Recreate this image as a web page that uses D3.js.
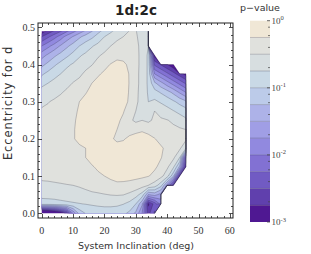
<!DOCTYPE html>
<html><head><meta charset="utf-8">
<script src="https://cdn.jsdelivr.net/npm/d3@7"></script>
<style>body{margin:0;background:#fff}svg{display:block}</style>
</head><body>
<svg id="c" width="311" height="254"></svg>
<script>
const title = "1d:2c";
const xLabel = "System Inclination (deg)";
const yLabel = "Eccentricity for d";
const legendTitle = "p\u2212value";
const inclinations = [0,2,4,6,8,10,12,14,16,18,20,22,24,26,28,30,32,34,36,38,40,42,44,46,48];
const eccentricities = [0,0.025,0.05,0.075,0.1,0.125,0.15,0.175,0.2,0.225,0.25,0.275,0.3,0.325,0.35,0.375,0.4,0.425,0.45,0.475,0.5];
const N = null;
// log10(p) on the grid, one row per eccentricity (bottom to top), one column per inclination
const logP = [
[-3.6,-3.5,-3.3,-3.0,-2.6,-1.7,-1.15,-0.98,-0.92,-0.9,-0.88,-0.88,-0.9,-0.95,-1.05,-1.3,-1.75,-2.6,-2.2,N,N,N,N,N,N],
[-0.85,-0.85,-0.84,-0.82,-0.8,-0.78,-0.76,-0.74,-0.72,-0.7,-0.69,-0.69,-0.7,-0.74,-0.82,-1.0,-1.45,-2.8,-2.4,-1.9,N,N,N,N,N],
[-0.68,-0.67,-0.66,-0.64,-0.62,-0.6,-0.58,-0.56,-0.54,-0.53,-0.51,-0.49,-0.48,-0.49,-0.55,-0.65,-0.85,-1.5,-1.4,-1.6,N,N,N,N,N],
[-0.55,-0.54,-0.53,-0.52,-0.51,-0.5,-0.48,-0.45,-0.41,-0.37,-0.33,-0.3,-0.28,-0.29,-0.31,-0.34,-0.4,-0.5,-0.62,-0.9,-1.6,-2.6,N,N,N],
[-0.45,-0.45,-0.44,-0.43,-0.41,-0.39,-0.36,-0.33,-0.3,-0.27,-0.25,-0.22,-0.2,-0.19,-0.19,-0.2,-0.21,-0.24,-0.3,-0.42,-0.65,-1.2,-2.6,N,N],
[-0.4,-0.4,-0.39,-0.38,-0.36,-0.33,-0.3,-0.28,-0.26,-0.23,-0.2,-0.18,-0.16,-0.15,-0.15,-0.15,-0.16,-0.18,-0.22,-0.3,-0.45,-0.7,-1.3,-2.7,N],
[-0.37,-0.37,-0.36,-0.35,-0.33,-0.31,-0.28,-0.25,-0.21,-0.18,-0.16,-0.14,-0.12,-0.11,-0.1,-0.1,-0.11,-0.13,-0.17,-0.24,-0.33,-0.45,-0.75,-2.3,N],
[-0.35,-0.35,-0.34,-0.33,-0.31,-0.29,-0.27,-0.25,-0.21,-0.17,-0.15,-0.17,-0.15,-0.12,-0.1,-0.1,-0.1,-0.12,-0.16,-0.22,-0.3,-0.37,-0.45,-0.75,N],
[-0.35,-0.35,-0.34,-0.32,-0.3,-0.26,-0.22,-0.2,-0.17,-0.15,-0.15,-0.21,-0.3,-0.28,-0.18,-0.15,-0.15,-0.18,-0.24,-0.32,-0.38,-0.41,-0.43,-0.45,N],
[-0.37,-0.37,-0.36,-0.34,-0.32,-0.26,-0.22,-0.19,-0.16,-0.14,-0.13,-0.17,-0.25,-0.38,-0.38,-0.32,-0.28,-0.32,-0.37,-0.4,-0.42,-0.45,-0.47,-0.5,N],
[-0.41,-0.4,-0.39,-0.36,-0.33,-0.27,-0.22,-0.18,-0.15,-0.13,-0.12,-0.13,-0.2,-0.3,-0.45,-0.55,-0.5,-0.55,-0.45,-0.47,-0.49,-0.54,-0.62,-0.7,N],
[-0.47,-0.46,-0.43,-0.39,-0.35,-0.29,-0.23,-0.18,-0.14,-0.12,-0.1,-0.1,-0.15,-0.23,-0.38,-0.5,-0.62,-0.7,-0.5,-0.58,-0.66,-0.74,-0.82,-0.9,N],
[-0.55,-0.51,-0.47,-0.43,-0.4,-0.33,-0.25,-0.2,-0.15,-0.12,-0.08,-0.08,-0.12,-0.18,-0.28,-0.45,-0.6,-0.75,-0.7,-0.78,-0.86,-0.96,-1.08,-1.2,N],
[-0.65,-0.6,-0.57,-0.52,-0.46,-0.4,-0.33,-0.26,-0.2,-0.16,-0.12,-0.1,-0.1,-0.15,-0.27,-0.45,-0.58,-0.78,-0.9,-1.02,-1.14,-1.31,-1.53,-1.75,N],
[-0.82,-0.75,-0.68,-0.62,-0.56,-0.49,-0.43,-0.33,-0.25,-0.2,-0.17,-0.14,-0.12,-0.16,-0.26,-0.45,-0.56,-0.8,-1.2,-1.42,-1.64,-1.86,-2.08,-2.3,N],
[-1.04,-0.93,-0.83,-0.75,-0.66,-0.6,-0.55,-0.45,-0.36,-0.27,-0.22,-0.18,-0.15,-0.18,-0.26,-0.45,-0.56,-0.8,-1.75,-1.97,-2.19,-2.41,-2.63,-2.85,N],
[-1.32,-1.18,-1.04,-0.92,-0.8,-0.72,-0.65,-0.58,-0.51,-0.4,-0.3,-0.24,-0.2,-0.22,-0.28,-0.44,-0.56,-0.8,-2.3,-2.52,-2.74,-2.96,N,N,N],
[-1.6,-1.45,-1.3,-1.17,-1.05,-0.92,-0.78,-0.7,-0.62,-0.53,-0.45,-0.35,-0.3,-0.3,-0.33,-0.44,-0.56,-0.8,-2.85,N,N,N,N,N,N],
[-2.0,-1.82,-1.65,-1.47,-1.3,-1.15,-1.0,-0.88,-0.77,-0.68,-0.6,-0.5,-0.42,-0.4,-0.38,-0.45,-0.56,-0.75,N,N,N,N,N,N,N],
[-2.5,-2.3,-2.1,-1.88,-1.65,-1.48,-1.3,-1.15,-1.05,-0.9,-0.75,-0.65,-0.56,-0.5,-0.44,-0.48,-0.56,-0.7,N,N,N,N,N,N,N],
[-3.2,-2.9,-2.7,-2.55,-2.3,-2.07,-1.85,-1.65,-1.4,-1.17,-1.03,-0.88,-0.76,-0.65,-0.53,-0.5,-0.58,-0.7,N,N,N,N,N,N,N]
];
const levels = [-3,-2.75,-2.5,-2.25,-2,-1.75,-1.5,-1.25,-1,-0.75,-0.5,-0.25,0];
const bandColors = ["#4f1892","#6040ad","#715bc3","#8271d3","#9189df","#a09ee5","#adb2e8","#bccbe9","#c9d9e6","#d7dee0","#e0e1dd","#f0e7d6"];
const xTicks = [0,10,20,30,40,50,60];
const yTicks = [0,0.1,0.2,0.3,0.4,0.5];
const cbTicks = [0,-1,-2,-3];
const eccTop = 0.49;

const svg = d3.select("#c");
const xs = d3.scaleLinear().domain([-1.2, 61]).range([38, 233]);
const ys = d3.scaleLinear().domain([-0.013, 0.512]).range([218, 23]);

// contours
const n = inclinations.length, m = eccentricities.length;
const flat = [];
logP.forEach(row => row.forEach(v => flat.push(v == null ? -1000 : v)));
const thr = [-10].concat(levels.slice(1, -1));
const cs = d3.contours().size([n, m]).thresholds(thr)(flat);
const dI = inclinations[1] - inclinations[0], dE = eccentricities[1] - eccentricities[0];
const proj = d3.geoTransform({point(x, y) {
  this.stream.point(xs(inclinations[0] + (x - 0.5) * dI), ys(eccentricities[0] + (y - 0.5) * dE));
}});
const path = d3.geoPath(proj);
svg.append("clipPath").attr("id", "clip").append("rect")
  .attr("x", xs(inclinations[0])).attr("y", ys(eccTop))
  .attr("width", xs(inclinations[n - 1] + dI / 2) - xs(inclinations[0]))
  .attr("height", ys(eccentricities[0]) - ys(eccTop));
const g = svg.append("g").attr("clip-path", "url(#clip)");
g.selectAll("path.f").data(cs).join("path").attr("class", "f")
  .attr("d", path).attr("fill", (d, i) => bandColors[i]).attr("stroke", "none");
g.selectAll("path.l").data(cs).join("path").attr("class", "l")
  .attr("d", path).attr("fill", "none")
  .attr("stroke", "rgba(40,40,60,0.42)").attr("stroke-width", 0.6);

// frame and ticks
const fx0 = xs.range()[0], fx1 = xs.range()[1], fy0 = ys.range()[1], fy1 = ys.range()[0];
svg.append("rect").attr("x", fx0).attr("y", fy0).attr("width", fx1 - fx0).attr("height", fy1 - fy0)
  .attr("fill", "none").attr("stroke", "#222").attr("stroke-width", 1);
const tk = svg.append("g").attr("stroke", "#222").attr("stroke-width", 0.8);
d3.range(0, 61, 2).forEach(v => {
  const L = v % 10 === 0 ? 4 : 2, x = Math.round(xs(v)) + 0.5;
  tk.append("line").attr("x1", x).attr("x2", x).attr("y1", fy1).attr("y2", fy1 - L);
  tk.append("line").attr("x1", x).attr("x2", x).attr("y1", fy0).attr("y2", fy0 + L);
});
d3.range(0, 51, 2).forEach(k => {
  const v = k / 100, L = k % 10 === 0 ? 4 : 2, y = Math.round(ys(v)) + 0.5;
  tk.append("line").attr("y1", y).attr("y2", y).attr("x1", fx0).attr("x2", fx0 + L);
  tk.append("line").attr("y1", y).attr("y2", y).attr("x1", fx1).attr("x2", fx1 - L);
});
const serif = "'Liberation Serif','DejaVu Serif',serif";
svg.append("g").selectAll("text").data(xTicks).join("text")
  .attr("x", d => xs(d)).attr("y", 233.5).attr("text-anchor", "middle")
  .attr("font-family", serif).attr("font-size", 10).attr("fill", "#333").text(d => d);
svg.append("g").selectAll("text").data(yTicks).join("text")
  .attr("x", 35).attr("y", d => ys(d) + 3.5).attr("text-anchor", "end")
  .attr("font-family", serif).attr("font-size", 10).attr("fill", "#333").text(d => d.toFixed(1));

const sans = "'DejaVu Sans',sans-serif";
svg.append("text").attr("x", 136).attr("y", 249).attr("text-anchor", "middle")
  .attr("font-family", sans).attr("font-size", 9.5).attr("fill", "#333").text(xLabel);
svg.append("text").attr("transform", "translate(12,103) rotate(-90)").attr("text-anchor", "middle")
  .attr("font-family", sans).attr("font-size", 11.5).attr("letter-spacing", 0.9).attr("fill", "#333").text(yLabel);
svg.append("text").attr("x", 136).attr("y", 15).attr("text-anchor", "middle")
  .attr("font-family", sans).attr("font-weight", "bold").attr("font-size", 13.5).attr("fill", "#222").text(title);
svg.append("text").attr("x", 260).attr("y", 11).attr("text-anchor", "middle")
  .attr("font-family", sans).attr("font-size", 9.5).attr("fill", "#333").text(legendTitle);

// colorbar
const cb = d3.scaleLinear().domain([0, -3]).range([20.7, 222]);
const cbx = 250, cbw = 20;
const bands = levels.slice(0, -1).map((lo, i) => ({lo, hi: levels[i + 1], c: bandColors[i]}));
svg.append("g").selectAll("rect").data(bands).join("rect")
  .attr("x", cbx).attr("y", d => cb(d.hi)).attr("width", cbw).attr("height", d => cb(d.lo) - cb(d.hi))
  .attr("fill", d => d.c);
svg.append("g").selectAll("line").data(levels.slice(1, -1)).join("line")
  .attr("x1", cbx).attr("x2", cbx + cbw).attr("y1", d => cb(d)).attr("y2", d => cb(d))
  .attr("stroke", "rgba(40,40,60,0.35)").attr("stroke-width", 0.7);
const minor = [];
[0, -1, -2].forEach(dec => [2, 4, 6, 8].forEach(k => minor.push(dec - 1 + Math.log10(k))));
svg.append("g").selectAll("line").data(minor).join("line")
  .attr("x1", cbx + cbw - 2).attr("x2", cbx + cbw).attr("y1", d => cb(d)).attr("y2", d => cb(d))
  .attr("stroke", "#444").attr("stroke-width", 0.7);
svg.append("g").selectAll("line").data(cbTicks).join("line")
  .attr("x1", cbx + cbw - 3).attr("x2", cbx + cbw).attr("y1", d => cb(d)).attr("y2", d => cb(d))
  .attr("stroke", "#444").attr("stroke-width", 0.8);
const lab = svg.append("g").selectAll("text").data(cbTicks).join("text")
  .attr("x", cbx + cbw + 1.5).attr("y", d => cb(d) + 3)
  .attr("font-family", serif).attr("font-size", 9).attr("fill", "#444");
lab.append("tspan").text("10");
lab.append("tspan").attr("dy", -3.5).attr("font-size", 6.5).text(d => d === 0 ? "0" : "-" + Math.abs(d));
</script>
</body></html>
